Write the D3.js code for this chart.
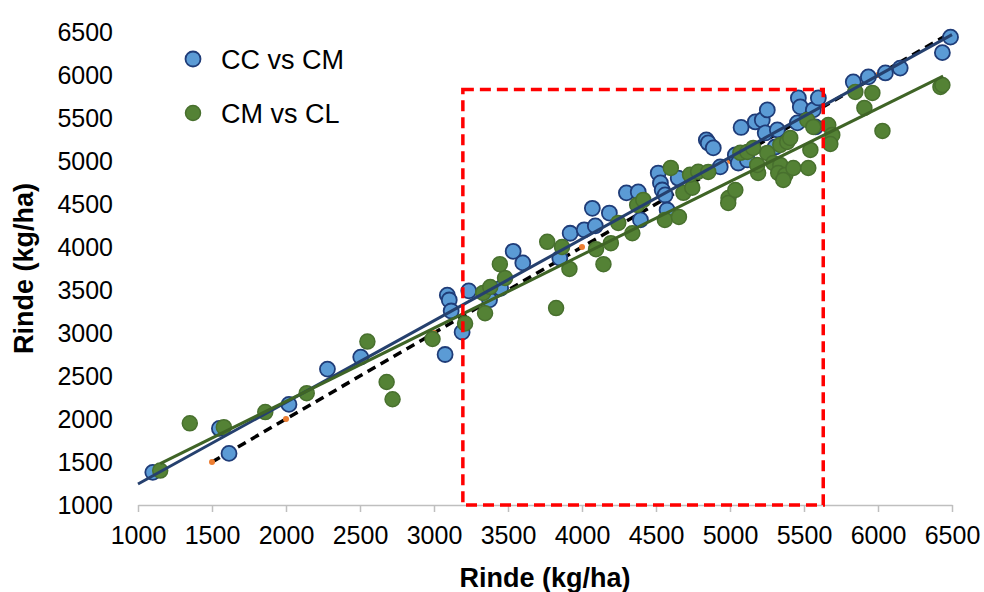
<!DOCTYPE html>
<html>
<head>
<meta charset="utf-8">
<script src="https://cdn.jsdelivr.net/npm/d3@7"></script>
<style>
  body { margin: 0; background: #fff; }
  text { font-family: "Liberation Sans", Arial, sans-serif; }
</style>
</head>
<body>
<div id="chart"></div>
<script>
// Data
const ccX = [1100, 1550, 1615, 2020, 2280, 2505, 3075, 3090, 3103, 3116, 3235, 3190, 3375, 3450, 3535, 3600,
  3850, 3920, 4015, 4090, 4070, 4185, 4300, 4380, 4395, 4515, 4530, 4542, 4562, 4575, 4650, 4840, 4853, 4887,
  4934, 5036, 5056, 5117, 5075, 5171, 5218, 5252, 5238, 5320, 5306, 5455, 5462, 5475, 5563, 5597, 5577, 5833,
  5935, 6050, 6150, 6435, 6490];
const ccY = [1380, 1890, 1600, 2170, 2580, 2720, 2750, 3440, 3384, 3256, 3490, 3010, 3385, 3520, 3950, 3815,
  3870, 4160, 4200, 4245, 4450, 4395, 4630, 4640, 4315, 4860, 4745, 4663, 4605, 4430, 4800, 5245, 5210, 5152,
  4931, 5070, 4977, 5012, 5390, 5454, 5477, 5594, 5326, 5361, 5163, 5443, 5733, 5629, 5594, 5733, 5396, 5919,
  5978, 6024, 6080, 6260, 6440];

const cmX = [1150, 1350, 1580, 1860, 2140, 2550, 2680, 2720, 2990, 3210, 3345, 3332, 3380, 3480, 3445, 3765,
  3865, 3915, 3825, 4095, 4145, 4195, 4245, 4340, 4373, 4414, 4560, 4655, 4600, 4685, 4745, 4730, 4785, 4853,
  4990, 4988, 5036, 5070, 5117, 5157, 5190, 5184, 5252, 5293, 5340, 5326, 5374, 5360, 5340, 5387, 5407, 5428,
  5529, 5543, 5522, 5563, 5664, 5691, 5678, 5847, 5962, 5908, 6030, 6422, 6435];
const cmY = [1400, 1950, 1905, 2080, 2300, 2900, 2430, 2230, 2930, 3110, 3230, 3466, 3535, 3640, 3800, 4060,
  4000, 3745, 3290, 3975, 3800, 4045, 4280, 4160, 4489, 4547, 4315, 4350, 4920, 4630, 4690, 4840, 4875, 4873,
  4570, 4512, 4663, 5095, 5105, 5152, 4860, 4954, 5094, 4977, 4954, 4861, 4838, 4780, 5187, 5222, 5268, 4919,
  4919, 5129, 5477, 5396, 5419, 5303, 5198, 5803, 5792, 5617, 5350, 5861, 5884];

// 1:1 reference
const refLine = [1500, 6500];
const refDots = [1500, 2000, 3000, 4000, 5000, 6000];

// trendlines: [slope, intercept, xStart, xEnd]
const ccFit = [0.950, 294, 1000, 6500];
const cmFit = [0.852, 501, 1150, 6440];

// highlighted zone [x0, x1, y0, y1]
const zone = [3195, 5630, 1000, 5830];

const ticks = [1000, 1500, 2000, 2500, 3000, 3500, 4000, 4500, 5000, 5500, 6000, 6500];
const legendNames = ["CC vs CM", "CM vs CL"];

// Set up the SVG
const width = 984, height = 592;
const margin = { top: 32, right: 32, bottom: 87, left: 138 };

const svg = d3.select("#chart").append("svg")
  .attr("width", width)
  .attr("height", height);

const x = d3.scaleLinear().domain([1000, 6500]).range([margin.left, width - margin.right]);
const y = d3.scaleLinear().domain([1000, 6500]).range([height - margin.bottom, margin.top]);

// x axis
const xAxis = svg.append("g")
  .attr("transform", `translate(0,${y(1000)})`)
  .call(d3.axisBottom(x).tickValues(ticks).tickFormat(d3.format("d"))
    .tickSize(7).tickSizeOuter(0).tickPadding(14));
xAxis.select(".domain").attr("stroke", "#bfbfbf").attr("stroke-width", 1.5);
xAxis.selectAll(".tick line").attr("stroke", "#bfbfbf").attr("stroke-width", 1.5);
xAxis.selectAll("text").attr("font-size", 25).attr("fill", "#000")
  .style("font-family", '"Liberation Sans", Arial, sans-serif');

// y axis, labels only
const yAxis = svg.append("g")
  .attr("transform", `translate(${margin.left},0)`)
  .call(d3.axisLeft(y).tickValues(ticks).tickFormat(d3.format("d")).tickSize(0).tickPadding(25));
yAxis.select(".domain").remove();
yAxis.selectAll("text").attr("font-size", 25).attr("fill", "#000")
  .style("font-family", '"Liberation Sans", Arial, sans-serif');

// axis titles
svg.append("text")
  .attr("x", (x(1000) + x(6500)) / 2)
  .attr("y", 587)
  .attr("text-anchor", "middle")
  .attr("font-size", 27).attr("font-weight", "bold")
  .text("Rinde (kg/ha)");

svg.append("text")
  .attr("transform", `translate(33,${(y(1000) + y(6500)) / 2}) rotate(-90)`)
  .attr("text-anchor", "middle")
  .attr("font-size", 27).attr("font-weight", "bold")
  .text("Rinde (kg/ha)");

// 1:1 dashed line with small orange markers
svg.append("line")
  .attr("x1", x(refLine[0])).attr("y1", y(refLine[0]))
  .attr("x2", x(refLine[1])).attr("y2", y(refLine[1]))
  .attr("stroke", "#000").attr("stroke-width", 3.5)
  .attr("stroke-dasharray", "9,6");

svg.selectAll(".ref")
  .data(refDots)
  .enter().append("circle")
  .attr("cx", d => x(d)).attr("cy", d => y(d))
  .attr("r", 3)
  .attr("fill", "#ed7d31");

// points
svg.selectAll(".cc")
  .data(ccX)
  .enter().append("circle")
  .attr("cx", d => x(d))
  .attr("cy", (d, i) => y(ccY[i]))
  .attr("r", 7.5)
  .attr("fill", "#5b9bd5")
  .attr("stroke", "#1f3c78")
  .attr("stroke-width", 1.8);

svg.selectAll(".cm")
  .data(cmX)
  .enter().append("circle")
  .attr("cx", d => x(d))
  .attr("cy", (d, i) => y(cmY[i]))
  .attr("r", 7.5)
  .attr("fill", "#548235")
  .attr("stroke", "#48702e")
  .attr("stroke-width", 1.5);

// trendlines
function trend(fit, color) {
  svg.append("line")
    .attr("x1", x(fit[2])).attr("y1", y(fit[1] + fit[0] * fit[2]))
    .attr("x2", x(fit[3])).attr("y2", y(fit[1] + fit[0] * fit[3]))
    .attr("stroke", color).attr("stroke-width", 3);
}
trend(ccFit, "#25406e");
trend(cmFit, "#3f6426");

// red dashed box
svg.append("rect")
  .attr("x", x(zone[0])).attr("y", y(zone[3]))
  .attr("width", x(zone[1]) - x(zone[0]))
  .attr("height", y(zone[2]) - y(zone[3]))
  .attr("fill", "none")
  .attr("stroke", "#ff0000").attr("stroke-width", 3.5)
  .attr("stroke-dasharray", "11,6");

// legend
const legend = svg.append("g");
legendNames.forEach((name, i) => {
  const ly = 59 + i * 54;
  legend.append("circle")
    .attr("cx", 193).attr("cy", ly).attr("r", 7.5)
    .attr("fill", i === 0 ? "#5b9bd5" : "#548235")
    .attr("stroke", i === 0 ? "#1f3c78" : "#48702e")
    .attr("stroke-width", i === 0 ? 1.8 : 1.5);
  legend.append("text")
    .attr("x", 221).attr("y", ly)
    .attr("dy", "0.36em")
    .attr("font-size", 27)
    .text(name);
});
</script>
</body>
</html>
